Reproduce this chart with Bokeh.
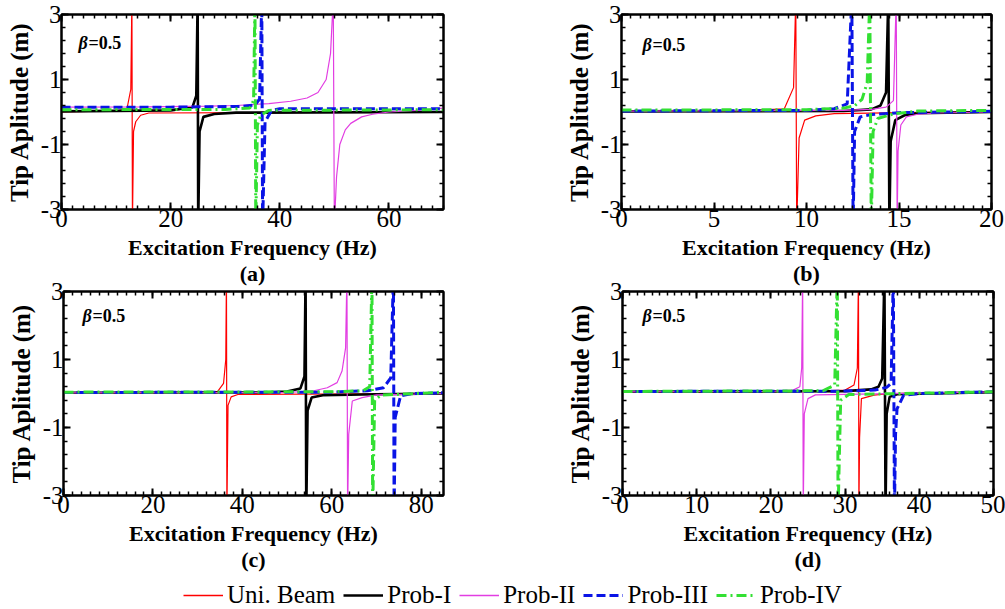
from bokeh.plotting import figure
from bokeh.models import Range1d, LinearAxis, FixedTicker, SingleIntervalTicker, Label, Legend, LegendItem
from bokeh.layouts import column, row
from bokeh.embed import file_html
from bokeh.resources import INLINE

SERIES = ["Uni. Beam", "Prob-I", "Prob-II", "Prob-III", "Prob-IV"]
Y_TICKS = [-3, -1, 1, 3]
Y_LABELS = {-3: "-3", -1: "-1", 1: "1", 3: "3"}

# ---- Panel (a): 0..70 Hz ----
a_uni_x = [0, 10, 12, 12.7, 12.9, 13.0, 13.2, 13.6, 14.5, 16, 70]
a_uni_y = [0.0, 0.03, 0.1, 0.7, 3.5, -3.5, -0.6, -0.3, -0.1, -0.03, 0.0]
a_p1_x = [0, 20, 24, 24.7, 24.95, 25.05, 25.3, 26, 28, 32, 70]
a_p1_y = [0.02, 0.05, 0.15, 0.5, 3.5, -3.5, -0.6, -0.15, -0.06, -0.02, 0.0]
a_p2_x = [0, 15, 27, 32, 38, 42, 45, 47, 48.5, 49.3, 49.8, 50.0, 50.4, 51, 52, 53, 55, 57, 60, 65, 70]
a_p2_y = [0.15, 0.16, 0.18, 0.2, 0.26, 0.33, 0.43, 0.6, 1.0, 1.8, 3.5, -3.5, -2.0, -1.0, -0.55, -0.35, -0.15, -0.07, 0.0, 0.05, 0.12]
a_p3_x = [0, 20, 33, 35.5, 36.3, 36.7, 36.85, 37.3, 38.5, 40, 70]
a_p3_y = [0.15, 0.15, 0.17, 0.22, 0.4, 3.5, -3.5, -0.3, 0.05, 0.1, 0.1]
a_p4_x = [0, 30, 34.5, 35.2, 35.45, 35.6, 35.9, 36.5, 38, 70]
a_p4_y = [0.07, 0.08, 0.12, 0.35, 3.5, -3.5, -0.4, -0.1, 0.05, 0.07]

# ---- Panel (b): 0..20 Hz ----
b_uni_x = [0, 7, 8.8, 9.3, 9.42, 9.47, 9.6, 9.9, 10.5, 11.5, 20]
b_uni_y = [0.03, 0.05, 0.1, 0.75, 3.5, -3.5, -0.8, -0.25, -0.12, -0.05, 0.02]
b_p1_x = [0, 12, 13.5, 14.0, 14.3, 14.42, 14.48, 14.55, 14.8, 15.3, 16, 20]
b_p1_y = [0.02, 0.03, 0.08, 0.2, 0.6, 3.5, -3.5, -0.9, -0.25, -0.1, -0.04, 0.0]
b_p2_x = [0, 12, 13.5, 14.3, 14.7, 14.85, 14.9, 14.95, 15.1, 15.4, 16, 17, 20]
b_p2_y = [0.03, 0.05, 0.08, 0.15, 0.35, 3.5, -3.5, -1.2, -0.4, -0.15, -0.07, -0.03, 0.0]
b_p3_x = [0, 10, 11.5, 12.2, 12.45, 12.52, 12.6, 12.9, 13.5, 15, 20]
b_p3_y = [0.03, 0.05, 0.1, 0.25, 3.5, -3.5, -0.6, -0.15, -0.08, -0.02, 0.02]
b_p4_x = [0, 10, 12, 12.6, 13.0, 13.28, 13.42, 13.5, 13.6, 13.85, 14.7, 16, 20]
b_p4_y = [0.06, 0.07, 0.12, 0.19, 0.39, 0.9, 3.5, -3.5, -0.6, -0.2, -0.06, 0.03, 0.05]

# ---- Panel (c): 0..85 Hz ----
c_uni_x = [0, 30, 34.5, 35.8, 36.3, 36.45, 36.55, 36.8, 37.5, 39, 85]
c_uni_y = [0.02, 0.03, 0.06, 0.3, 1.0, 3.5, -3.5, -0.35, -0.1, -0.03, 0.0]
c_p1_x = [0, 45, 50, 53, 53.9, 54.15, 54.3, 54.6, 55.5, 58, 70, 85]
c_p1_y = [0.02, 0.03, 0.06, 0.15, 0.5, 3.5, -3.5, -0.5, -0.12, -0.05, -0.02, 0.0]
c_p2_x = [0, 50, 56, 59, 61.2, 62.3, 63.1, 63.4, 63.55, 63.8, 64.6, 66.8, 70, 85]
c_p2_y = [0.02, 0.03, 0.08, 0.17, 0.32, 0.66, 1.34, 3.5, -3.5, -1.2, -0.22, -0.12, -0.04, 0.0]
c_p3_x = [0, 60, 68, 71.6, 73.2, 73.8, 73.95, 74.2, 75.4, 78, 85]
c_p3_y = [0.03, 0.04, 0.08, 0.17, 0.46, 3.5, -3.5, -0.7, -0.07, 0.0, 0.02]
c_p4_x = [0, 60, 67, 68.5, 69.0, 69.15, 69.6, 71, 85]
c_p4_y = [0.04, 0.05, 0.08, 0.2, 3.5, -3.5, -0.2, -0.05, 0.04]

# ---- Panel (d): 0..50 Hz ----
d_uni_x = [0, 25, 30, 31.2, 31.65, 31.8, 31.86, 31.95, 32.2, 33.9, 36, 50]
d_uni_y = [0.05, 0.06, 0.1, 0.25, 0.75, 3.5, -3.5, -1.3, -0.15, -0.05, 0.0, 0.04]
d_p1_x = [0, 30, 33.5, 34.5, 35.0, 35.3, 35.45, 35.6, 36.0, 37, 50]
d_p1_y = [0.05, 0.07, 0.12, 0.2, 0.44, 3.5, -3.5, -0.6, -0.1, -0.02, 0.04]
d_p2_x = [0, 20, 23.0, 23.9, 24.15, 24.28, 24.36, 24.5, 25.0, 26, 50]
d_p2_y = [0.05, 0.06, 0.1, 0.2, 0.75, 3.5, -3.5, -0.6, -0.15, -0.04, 0.05]
d_p3_x = [0, 30, 34, 35.6, 36.2, 36.5, 36.65, 36.8, 37.0, 37.9, 40, 50]
d_p3_y = [0.06, 0.07, 0.1, 0.18, 0.3, 3.5, -3.5, -1.2, -0.45, -0.05, 0.0, 0.05]
d_p4_x = [0, 27, 28.6, 28.95, 29.05, 29.4, 30.5, 50]
d_p4_y = [0.06, 0.08, 0.25, 3.5, -3.5, -0.2, -0.03, 0.05]

STYLES = [
    dict(line_color="#ff0000", line_width=1.2),
    dict(line_color="#000000", line_width=2.6),
    dict(line_color="#e23de2", line_width=1.2),
    dict(line_color="#0a14e6", line_width=3.0, line_dash="9 4"),
    dict(line_color="#33e033", line_width=3.0, line_dash="10 4 2 4"),
]
LEGEND_WIDTHS = [1.6, 2.6, 1.6, 3.0, 3.0]

SERIF = "Liberation Serif"
X_LABEL = "Excitation Frequency (Hz)"


def style_axis(ax, show_labels, ticker):
    ax.ticker = ticker
    ax.axis_line_color = "black"
    ax.axis_line_width = 2
    ax.major_tick_in = 7
    ax.major_tick_out = 0
    ax.minor_tick_in = 4
    ax.minor_tick_out = 0
    ax.major_tick_line_width = 2
    ax.minor_tick_line_width = 1.5
    ax.major_tick_line_color = "black"
    ax.minor_tick_line_color = "black"
    if show_labels:
        ax.major_label_text_font = SERIF
        ax.major_label_text_font_size = "25px"
        ax.major_label_text_color = "black"
        ax.major_label_standoff = 0
        ax.axis_label_text_font = SERIF
        ax.axis_label_text_font_style = "bold"
        ax.axis_label_text_color = "black"
        ax.axis_label_standoff = 5
    else:
        ax.major_label_text_font_size = "0px"
        ax.major_label_text_color = None
        ax.major_label_standoff = 0


def panel(series, xmax, xint, width, height, bl, br, bt, bb, beta_dx, beta_dy, cap):
    p = figure(width=width, height=height, x_range=Range1d(0, xmax), y_range=Range1d(-3, 3),
               output_backend="svg", toolbar_location=None,
               min_border_left=bl, min_border_right=br, min_border_top=bt, min_border_bottom=bb,
               x_axis_label=X_LABEL + "\n" + cap, y_axis_label="Tip Aplitude (m)")
    p.grid.visible = False
    p.outline_line_color = "black"
    p.outline_line_width = 2
    p.background_fill_color = "white"
    p.border_fill_alpha = 0
    yminor = [-3 + 0.4 * i for i in range(16)]
    style_axis(p.xaxis[0], True, SingleIntervalTicker(interval=xint, num_minor_ticks=10))
    style_axis(p.yaxis[0], True, FixedTicker(ticks=Y_TICKS, minor_ticks=yminor))
    p.xaxis.axis_label_text_font_size = "22px"
    p.xaxis.axis_label_text_line_height = 1.05
    p.xaxis.axis_label_text_align = "center"
    p.yaxis.axis_label_text_font_size = "25px"
    p.yaxis.major_label_overrides = Y_LABELS
    top = LinearAxis()
    right = LinearAxis()
    style_axis(top, False, SingleIntervalTicker(interval=xint, num_minor_ticks=10))
    style_axis(right, False, FixedTicker(ticks=Y_TICKS, minor_ticks=yminor))
    p.add_layout(top, "above")
    p.add_layout(right, "right")
    for (xs, ys), st in zip(series, STYLES):
        p.line(xs, ys, **st)
    fw = width - bl - br
    fh = height - bt - bb
    bx = xmax * beta_dx / fw
    by = 3 - 6 * beta_dy / fh
    p.add_layout(Label(x=bx, y=by, text="β", text_font=SERIF, text_font_size="18px",
                       text_font_style="bold italic", text_baseline="middle", text_color="black"))
    p.add_layout(Label(x=bx, y=by, x_offset=10, text="=0.5", text_font=SERIF, text_font_size="18px",
                       text_font_style="bold", text_baseline="middle", text_color="black"))
    return p


H1 = 290          # first row (captions included)
OVER = 20         # second row overlaps the caption strip of the first
R2 = H1 - OVER    # top of second row
H2 = 577 - R2
pa = panel([(a_uni_x, a_uni_y), (a_p1_x, a_p1_y), (a_p2_x, a_p2_y), (a_p3_x, a_p3_y), (a_p4_x, a_p4_y)],
           70, 20, 502, H1, 61, 59, 14, H1 - 209, 17, 28, "(a)")
pb = panel([(b_uni_x, b_uni_y), (b_p1_x, b_p1_y), (b_p2_x, b_p2_y), (b_p3_x, b_p3_y), (b_p4_x, b_p4_y)],
           20, 5, 503, H1, 119, 14, 14, H1 - 212, 21, 31, "(b)")
pc = panel([(c_uni_x, c_uni_y), (c_p1_x, c_p1_y), (c_p2_x, c_p2_y), (c_p3_x, c_p3_y), (c_p4_x, c_p4_y)],
           85, 20, 502, H2, 63, 59, 290 - R2, R2 + H2 - 495, 19, 25, "(c)")
pd_ = panel([(d_uni_x, d_uni_y), (d_p1_x, d_p1_y), (d_p2_x, d_p2_y), (d_p3_x, d_p3_y), (d_p4_x, d_p4_y)],
            50, 10, 503, H2, 120, 12, 291 - R2, R2 + H2 - 501, 20, 25, "(d)")

# legend strip
pl = figure(width=1005, height=609 - 577, x_range=Range1d(0, 1), y_range=Range1d(0, 1),
            output_backend="svg", toolbar_location=None, min_border=0)
pl.axis.visible = False
pl.grid.visible = False
pl.outline_line_color = None
pl.border_fill_alpha = 0
pl.background_fill_alpha = 0
items = []
for name, st, lw in zip(SERIES, STYLES, LEGEND_WIDTHS):
    kw = dict(st)
    kw["line_width"] = lw
    r = pl.line([5, 6], [5, 6], **kw)
    items.append(LegendItem(label=name, renderers=[r]))
leg = Legend(items=items, orientation="horizontal", location=(183, 0),
             label_text_font=SERIF, label_text_font_size="25px", label_text_color="black",
             glyph_width=40, label_standoff=4, spacing=8, padding=0, margin=0,
             border_line_color=None, background_fill_alpha=0)
pl.add_layout(leg, "center")

layout = column(row(pa, pb), row(pc, pd_, margin=(-OVER, 0, 0, 0)), pl,
                styles={"background-color": "white"})
open("out.html", "w").write(file_html(layout, INLINE))
